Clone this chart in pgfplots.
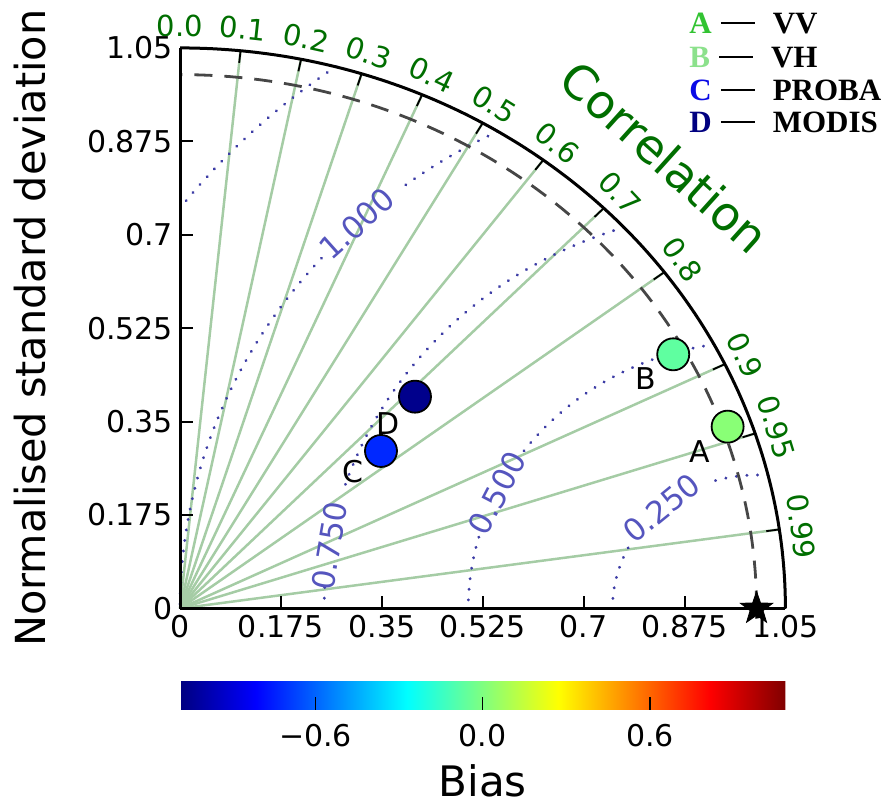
\documentclass[border=0pt]{standalone}
\usepackage{fontspec}
\setmainfont{DejaVu Sans}
\newfontfamily\legfont{Liberation Serif}
\usepackage{pgfplots}
\usepackage{pgfplotstable}
\pgfplotsset{compat=1.18}
\usetikzlibrary{calc}

\definecolor{corrgreen}{RGB}{165,204,165}
\definecolor{labgreen}{RGB}{0,110,0}
\definecolor{rmsblue}{RGB}{60,60,165}
\definecolor{rmslab}{RGB}{85,85,190}
\definecolor{refgray}{RGB}{70,70,70}
\definecolor{legA}{RGB}{50,195,50}
\definecolor{legB}{RGB}{140,225,140}
\definecolor{legC}{RGB}{10,10,230}
\definecolor{legD}{RGB}{0,0,128}

% filled five-pointed star
\pgfdeclareplotmark{fstar}{%
  \pgfpathmoveto{\pgfpointpolar{90}{\pgfplotmarksize}}%
  \pgfpathlineto{\pgfpointpolar{126}{0.4\pgfplotmarksize}}%
  \pgfpathlineto{\pgfpointpolar{162}{\pgfplotmarksize}}%
  \pgfpathlineto{\pgfpointpolar{198}{0.4\pgfplotmarksize}}%
  \pgfpathlineto{\pgfpointpolar{234}{\pgfplotmarksize}}%
  \pgfpathlineto{\pgfpointpolar{270}{0.4\pgfplotmarksize}}%
  \pgfpathlineto{\pgfpointpolar{306}{\pgfplotmarksize}}%
  \pgfpathlineto{\pgfpointpolar{342}{0.4\pgfplotmarksize}}%
  \pgfpathlineto{\pgfpointpolar{18}{\pgfplotmarksize}}%
  \pgfpathlineto{\pgfpointpolar{54}{0.4\pgfplotmarksize}}%
  \pgfpathclose\pgfusepathqfillstroke}

% normalised std, correlation, bias
\pgfplotstableread{
name std corr bias
A 1.009 0.9413 0.02
B 0.979 0.8738 -0.07
C 0.4567 0.7633 -0.73
D 0.5688 0.7165 -1.06
}\stats

\newcommand{\fs}[1]{\fontsize{#1}{#1}\selectfont}

\begin{document}
\begin{tikzpicture}
% polar grid, drawn in data units of the axis below
\begin{scope}[x=288.3pt,y=266.95pt]
  \foreach \c in {0.1,0.2,0.3,0.4,0.5,0.6,0.7,0.8,0.9,0.95,0.99}{
    \draw[corrgreen, line width=1.25pt] (0,0) -- ({1.05*\c},{1.05*sqrt(1-\c*\c)});
    \draw[black, line width=0.9pt] ({1.05*\c},{1.05*sqrt(1-\c*\c)}) -- ({1.027*\c},{1.027*sqrt(1-\c*\c)});
  }
  \foreach \r/\a/\b in {0.25/85.4/110.5, 0.25/153/180, 0.5/98.5/144, 0.5/164.5/180,
                        0.75/107.9/163, 0.75/177/180, 1.0/116.7/128.5, 1.0/139/180, 1.25/125.7/143.1}
    \draw[rmsblue, line width=1.6pt, line cap=round, dash pattern=on 0.01pt off 5.3pt]
      plot[domain=\a:\b, samples=50, variable=\p] ({1+\r*cos(\p)},{\r*sin(\p)});
  \foreach \r/\p/\t in {0.25/131.3/0.250, 0.5/154.3/0.500, 0.75/171/0.750, 1.0/133.9/1.000}
    \node[text=rmslab, font=\fs{15.5}, rotate={atan2(-266.95*cos(\p),288.3*sin(\p))}]
      at ({1+\r*cos(\p)},{\r*sin(\p)}) {\t};
  \draw[refgray, line width=1.4pt, dash pattern=on 9pt off 6pt]
    plot[domain=0:90, samples=90, variable=\t] ({cos(\t)},{sin(\t)});
  \draw[black, line width=1.5pt]
    plot[domain=0:90, samples=120, variable=\t] ({1.05*cos(\t)},{1.05*sin(\t)});
  \foreach \c in {0.0,0.1,0.2,0.3,0.4,0.5,0.6,0.7,0.8,0.9,0.95,0.99}
    \node[text=labgreen, font=\fs{14.5}, inner sep=0pt, rotate={atan2(266.95*sqrt(1-\c*\c),288.3*\c)-90}]
      at ($({1.05*\c},{1.05*sqrt(1-\c*\c)})+({atan2(266.95*sqrt(1-\c*\c),288.3*\c)}:11pt)$) {\c};
\end{scope}

\begin{axis}[
  scale only axis, width=302.7pt, height=280.3pt,
  xmin=0, xmax=1.05, ymin=0, ymax=1.05,
  axis x line*=bottom, axis y line*=left,
  axis line style={line width=1.5pt},
  xtick={0,0.175,0.35,0.525,0.7,0.875,1.05},
  ytick={0,0.175,0.35,0.525,0.7,0.875,1.05},
  xticklabels={0,0.175,0.35,0.525,0.7,0.875,1.05},
  yticklabels={0,0.175,0.35,0.525,0.7,0.875,1.05},
  tick align=inside, major tick length=6.5pt,
  tick style={black, line width=1pt},
  ticklabel style={font=\fs{15}},
  clip=false,
  colormap/jet,
  point meta min=-1.086, point meta max=1.086,
  colorbar horizontal,
  colorbar style={
    at={($(parent axis.south west)+(0,-28.2pt)$)}, anchor=north west,
    scale only axis, width=302.7pt, height=14pt,
    xtick={-0.6,0,0.6}, xticklabels={−0.6,0.0,0.6},
    xtick align=inside, major tick length=6.5pt,
    xtick pos=left, xticklabel pos=left,
    axis line style={draw=none},
    tick style={black, line width=0.6pt},
    xticklabel style={font=\fs{15}, yshift=-3.5pt},
  },
]
\addplot[scatter, only marks, mark=*, mark size=8pt, line width=0.9pt,
  point meta=explicit,
  scatter/use mapped color={draw=black, fill=mapped color}]
  table[x expr={\thisrow{std}*\thisrow{corr}},
        y expr={\thisrow{std}*sqrt(1-\thisrow{corr}^2)}, meta=bias] {\stats};
\addplot[only marks, mark=fstar, mark size=8.5pt, black] coordinates {(1,0)};
\end{axis}

% point letters
\node[font=\fs{15}] at (260pt,78.4pt) {A};
\node[font=\fs{15}] at (232.8pt,115.1pt) {B};
\node[font=\fs{15}] at (86.7pt,68.4pt) {C};
\node[font=\fs{15}] at (104.2pt,92.6pt) {D};

\node[text=labgreen, rotate=-42, font=\fs{23.5}] at (242.5pt,225.75pt) {Correlation};
\node[rotate=90, font=\fs{20.7}] at (-75pt,140.15pt) {Normalised standard deviation};
\node[font=\fs{21}] at (151.35pt,-86.25pt) {Bias};

% legend
\foreach \l/\col/\txt/\y in {A/legA/VV/292.75, B/legB/VH/275.75, C/legC/PROBA/259.25, D/legD/MODIS/243.25}
  \node[anchor=base west, inner sep=0pt, font=\legfont\bfseries\fs{15.5}] at (254.5pt,\y pt-5.1pt)
    {\textcolor{\col}{\l}\hspace{4.5pt}\rule[4.6pt]{17pt}{1.1pt}\hspace{9pt}\txt};

\pgfresetboundingbox
\useasboundingbox (-90pt,-97.75pt) rectangle (354pt,304.25pt);
\end{tikzpicture}
\end{document}
